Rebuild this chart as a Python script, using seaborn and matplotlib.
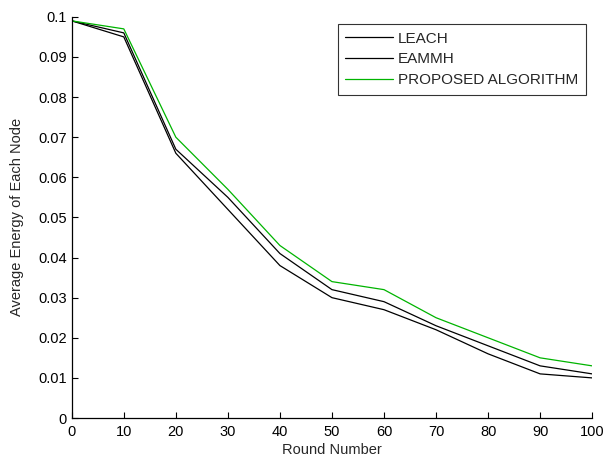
import seaborn as sns
import matplotlib.pyplot as plt
import pandas as pd

# data
rounds = [0, 10, 20, 30, 40, 50, 60, 70, 80, 90, 100]
leach = [0.099, 0.095, 0.066, 0.052, 0.038, 0.030, 0.027, 0.022, 0.016, 0.011, 0.010]
eammh = [0.099, 0.096, 0.067, 0.055, 0.041, 0.032, 0.029, 0.023, 0.018, 0.013, 0.011]
proposed = [0.099, 0.097, 0.070, 0.057, 0.043, 0.034, 0.032, 0.025, 0.020, 0.015, 0.013]
series_names = ["LEACH", "EAMMH", "PROPOSED ALGORITHM"]
x_ticks = list(range(0, 101, 10))
y_ticks = [0, 0.01, 0.02, 0.03, 0.04, 0.05, 0.06, 0.07, 0.08, 0.09, 0.1]
y_labels = ["0", "0.01", "0.02", "0.03", "0.04", "0.05", "0.06", "0.07", "0.08", "0.09", "0.1"]

df = pd.DataFrame({
    "round": rounds * 3,
    "energy": leach + eammh + proposed,
    "scheme": [series_names[0]] * len(rounds) + [series_names[1]] * len(rounds)
              + [series_names[2]] * len(rounds),
})

sns.set_theme(style="white")
plt.rcParams["font.family"] = ["Liberation Sans", "DejaVu Sans"]
plt.rcParams["xtick.direction"] = "in"
plt.rcParams["ytick.direction"] = "in"

fig = plt.figure(figsize=(6.03, 4.59), dpi=100)
ax = fig.add_axes([0.119, 0.0893, 0.863, 0.874])

palette = {"LEACH": "black", "EAMMH": "black", "PROPOSED ALGORITHM": "#00b400"}
sns.lineplot(data=df, x="round", y="energy", hue="scheme", palette=palette,
             hue_order=series_names, linewidth=0.9, ax=ax)

ax.set_xlim(0, 100)
ax.set_ylim(0, 0.1)
ax.set_xticks(x_ticks)
ax.set_yticks(y_ticks)
ax.set_yticklabels(y_labels)
ax.tick_params(axis="both", labelsize=10.5, colors="black", length=4, width=0.8,
               bottom=True, left=True)
ax.tick_params(axis="x", pad=5)
ax.set_xlabel("Round Number", fontsize=10.5, labelpad=3)
ax.set_ylabel("Average Energy of Each Node", fontsize=10.5, labelpad=10)
sns.despine(ax=ax)
for side in ["left", "bottom"]:
    ax.spines[side].set_color("black")
    ax.spines[side].set_linewidth(0.9)

leg = ax.legend(loc="upper right", bbox_to_anchor=(0.988, 0.9825), fontsize=11,
                frameon=True, fancybox=False, borderpad=0.5, borderaxespad=0,
                handlelength=3.1, handletextpad=0.35, labelspacing=0.45)
leg.get_frame().set_edgecolor("black")
leg.get_frame().set_linewidth(0.8)

fig.savefig("out.png", dpi=100)
